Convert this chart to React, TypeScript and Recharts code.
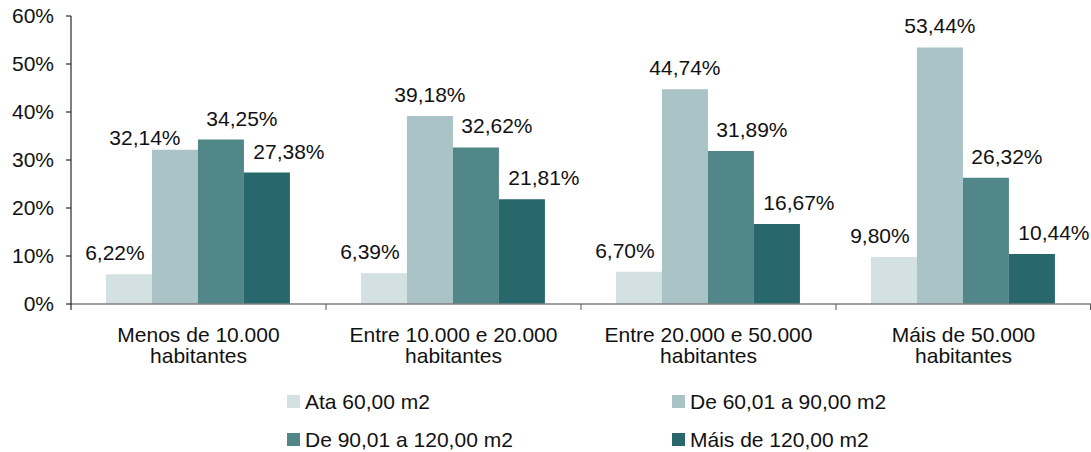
import React from 'react';
import { BarChart, Bar, XAxis, YAxis, Legend, LabelList } from 'recharts';

const categories = [
  'Menos de 10.000 habitantes',
  'Entre 10.000 e 20.000 habitantes',
  'Entre 20.000 e 50.000 habitantes',
  'Máis de 50.000 habitantes',
];
const seriesNames = ['Ata 60,00 m2', 'De 60,01 a 90,00 m2', 'De 90,01 a 120,00 m2', 'Máis de 120,00 m2'];
const ata60 = [6.22, 6.39, 6.7, 9.8];
const de60a90 = [32.14, 39.18, 44.74, 53.44];
const de90a120 = [34.25, 32.62, 31.89, 26.32];
const mais120 = [27.38, 21.81, 16.67, 10.44];
const yTicks = [0, 10, 20, 30, 40, 50, 60];

const seriesValues = [ata60, de60a90, de90a120, mais120];
const colors = ['#D4E1E2', '#A9C3C6', '#528789', '#28686D'];
const labelDx = [-14, 0, 21, 22];
// manually placed label (as in the original chart)
const labelOverrides: Record<string, { dx: number; gap: number }> = { '1-0': { dx: -30, gap: 5 } };

const data = categories.map((c, i) => {
  const row: Record<string, any> = { name: c };
  seriesNames.forEach((s, k) => {
    row['s' + k] = seriesValues[k][i];
  });
  return row;
});

const W = 1091;
const H = 452;
const YW = 71;
const FONT = 'Liberation Sans, Arial, sans-serif';
const band = (W - YW) / categories.length;

const fmt = (v: number) => v.toFixed(2).replace('.', ',') + '%';

const makeLabel = (k: number) => (props: any) => {
  const { x, y, width, value, index } = props;
  const ov = labelOverrides[`${k}-${index}`];
  const dx = ov ? ov.dx : labelDx[k];
  const gap = ov ? ov.gap : 14;
  return (
    <text
      x={Number(x) + Number(width) / 2 + dx}
      y={Number(y) - gap}
      textAnchor="middle"
      fontSize={21}
      fontFamily={FONT}
      fill="#111"
    >
      {fmt(Number(value))}
    </text>
  );
};

const XTick = (props: any) => {
  const { x, y, payload, index } = props;
  const s: string = String(payload.value);
  const cut = s.lastIndexOf(' ');
  const l1 = s.slice(0, cut);
  const l2 = s.slice(cut + 1);
  const left = x - band / 2;
  return (
    <g>
      <line x1={left} y1={y} x2={left} y2={y + 6} stroke={index === 0 ? '#000' : '#555'} strokeWidth={1} />
      {index === categories.length - 1 && (
        <line x1={x + band / 2 - 0.5} y1={y} x2={x + band / 2 - 0.5} y2={y + 6} stroke="#555" strokeWidth={1} />
      )}
      <text x={x} y={y + 37.7} textAnchor="middle" fontSize={21} fontFamily={FONT} fill="#111">
        {l1}
      </text>
      <text x={x} y={y + 59.3} textAnchor="middle" fontSize={21} fontFamily={FONT} fill="#111">
        {l2}
      </text>
    </g>
  );
};

const LegendContent = () => {
  const pos = [
    { left: 287, top: 10 },
    { left: 672, top: 10 },
    { left: 287, top: 48 },
    { left: 672, top: 48 },
  ];
  return (
    <div style={{ position: 'relative', width: W, height: 67, fontFamily: FONT }}>
      {seriesNames.map((n, i) => (
        <div
          key={n}
          style={{
            position: 'absolute',
            left: pos[i].left,
            top: pos[i].top,
            display: 'flex',
            alignItems: 'center',
            height: 13,
            whiteSpace: 'nowrap',
          }}
        >
          <span style={{ display: 'inline-block', width: 13, height: 13, background: colors[i], marginRight: 5 }} />
          <span style={{ fontSize: 21, color: '#111', lineHeight: '13px' }}>{n}</span>
        </div>
      ))}
    </div>
  );
};

export default function App() {
  return (
    <div style={{ position: 'absolute', left: 0, top: 0, width: W, height: H, background: '#fff' }}>
      <BarChart
        width={W}
        height={H}
        data={data}
        margin={{ top: 16, right: 0, bottom: 0, left: 0 }}
        barCategoryGap="13.7%"
        barGap={0}
      >
        <XAxis
          dataKey="name"
          height={H - 16 - 288}
          tickSize={0}
          tickMargin={0}
          tickLine={false}
          axisLine={{ stroke: '#808080', strokeWidth: 1.3 }}
          tick={<XTick />}
          interval={0}
        />
        <YAxis
          width={YW}
          domain={[0, 60]}
          ticks={yTicks}
          tickSize={5}
          tickMargin={12}
          tickFormatter={(v: number) => `${v}%`}
          axisLine={{ stroke: '#000' }}
          tickLine={{ stroke: '#000' }}
          tick={{ fontSize: 21, fontFamily: FONT, fill: '#111' }}
        />
        <Legend
          verticalAlign="middle"
          layout="horizontal"
          wrapperStyle={{ top: 385, left: 0, width: W, height: 67 }}
          content={<LegendContent />}
        />
        {seriesNames.map((n, k) => (
          <Bar key={n} dataKey={'s' + k} name={n} fill={colors[k]} isAnimationActive={false}>
            <LabelList dataKey={'s' + k} content={makeLabel(k)} />
          </Bar>
        ))}
      </BarChart>
    </div>
  );
}
